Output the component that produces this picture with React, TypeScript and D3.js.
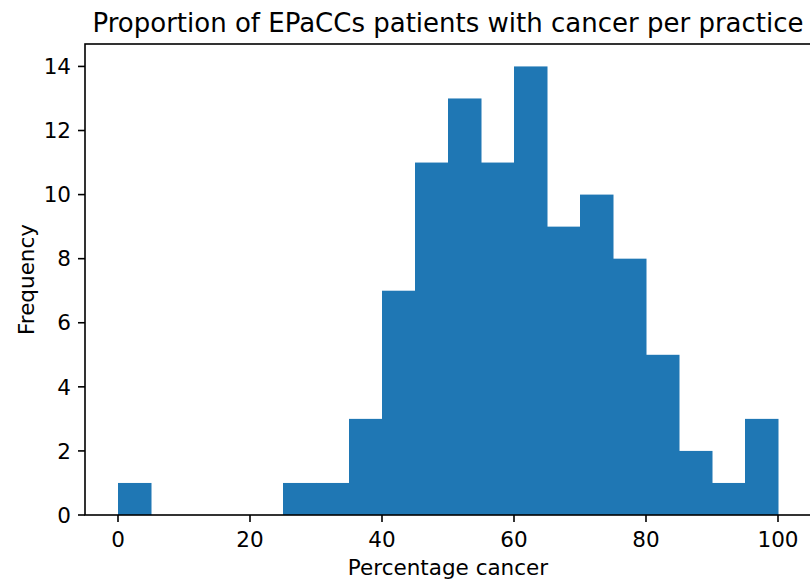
import { useEffect, useRef } from "react"
import * as d3 from "d3"

// histogram bins (5% wide) and counts
const binEdges = [0, 5, 10, 15, 20, 25, 30, 35, 40, 45, 50, 55, 60, 65, 70, 75, 80, 85, 90, 95, 100]
const counts = [1, 0, 0, 0, 0, 1, 1, 3, 7, 11, 13, 11, 14, 9, 10, 8, 5, 2, 1, 3]
const xTicks = [0, 20, 40, 60, 80, 100]
const yTicks = [0, 2, 4, 6, 8, 10, 12, 14]

const width = 810
const height = 581

export default function App() {
  const svgRef = useRef<SVGSVGElement>(null)

  useEffect(() => {
    const svg = d3.select(svgRef.current)
    svg.selectAll("*").remove()

    const margin = { top: 44, right: -1, bottom: 66, left: 85 }
    const innerWidth = width - margin.left - margin.right
    const innerHeight = height - margin.top - margin.bottom
    const font = "DejaVu Sans, sans-serif"
    const tickSize = 21.5
    const lw = 1.6

    const x = d3.scaleLinear().domain([-5, 105]).range([0, innerWidth])
    const y = d3.scaleLinear().domain([0, 14.7]).range([innerHeight, 0])

    const g = svg.append("g").attr("transform", `translate(${margin.left},${margin.top})`)

    const bins = counts.map((c, i) => ({ x0: binEdges[i], x1: binEdges[i + 1], count: c }))

    // bars
    g.selectAll("rect.bar")
      .data(bins.filter((d) => d.count > 0))
      .enter()
      .append("rect")
      .attr("x", (d) => x(d.x0))
      .attr("width", (d) => x(d.x1) - x(d.x0) + 0.5)
      .attr("y", (d) => y(d.count))
      .attr("height", (d) => y(0) - y(d.count))
      .attr("fill", "#1f77b4")

    // frame
    g.append("rect")
      .attr("x", 0)
      .attr("y", 0)
      .attr("width", innerWidth)
      .attr("height", innerHeight)
      .attr("fill", "none")
      .attr("stroke", "#000")
      .attr("stroke-width", lw)

    // x axis
    const xAxis = g.append("g").attr("transform", `translate(0,${innerHeight})`)
    xAxis
      .selectAll("line")
      .data(xTicks)
      .enter()
      .append("line")
      .attr("x1", (d) => x(d))
      .attr("x2", (d) => x(d))
      .attr("y1", 0)
      .attr("y2", 7)
      .attr("stroke", "#000")
      .attr("stroke-width", lw)
    xAxis
      .selectAll("text")
      .data(xTicks)
      .enter()
      .append("text")
      .attr("x", (d) => x(d))
      .attr("y", 32)
      .attr("text-anchor", "middle")
      .attr("font-family", font)
      .attr("font-size", tickSize)
      .attr("fill", "#000")
      .text((d) => d)

    // y axis
    const yAxis = g.append("g")
    yAxis
      .selectAll("line")
      .data(yTicks)
      .enter()
      .append("line")
      .attr("x1", -7)
      .attr("x2", 0)
      .attr("y1", (d) => y(d))
      .attr("y2", (d) => y(d))
      .attr("stroke", "#000")
      .attr("stroke-width", lw)
    yAxis
      .selectAll("text")
      .data(yTicks)
      .enter()
      .append("text")
      .attr("x", -14)
      .attr("y", (d) => y(d))
      .attr("dy", "0.36em")
      .attr("text-anchor", "end")
      .attr("font-family", font)
      .attr("font-size", tickSize)
      .attr("fill", "#000")
      .text((d) => d)

    // labels
    svg
      .append("text")
      .attr("x", margin.left + innerWidth / 2)
      .attr("y", 32)
      .attr("text-anchor", "middle")
      .attr("font-family", font)
      .attr("font-size", 26)
      .attr("fill", "#000")
      .text("Proportion of EPaCCs patients with cancer per practice")

    svg
      .append("text")
      .attr("x", margin.left + innerWidth / 2)
      .attr("y", 575)
      .attr("text-anchor", "middle")
      .attr("font-family", font)
      .attr("font-size", tickSize)
      .attr("fill", "#000")
      .text("Percentage cancer")

    svg
      .append("text")
      .attr("transform", `translate(34,${margin.top + innerHeight / 2}) rotate(-90)`)
      .attr("text-anchor", "middle")
      .attr("font-family", font)
      .attr("font-size", tickSize)
      .attr("fill", "#000")
      .text("Frequency")
  }, [])

  return (
    <svg
      ref={svgRef}
      width={width}
      height={height}
      style={{ position: "absolute", left: 0, top: 0, background: "#fff" }}
    />
  )
}
